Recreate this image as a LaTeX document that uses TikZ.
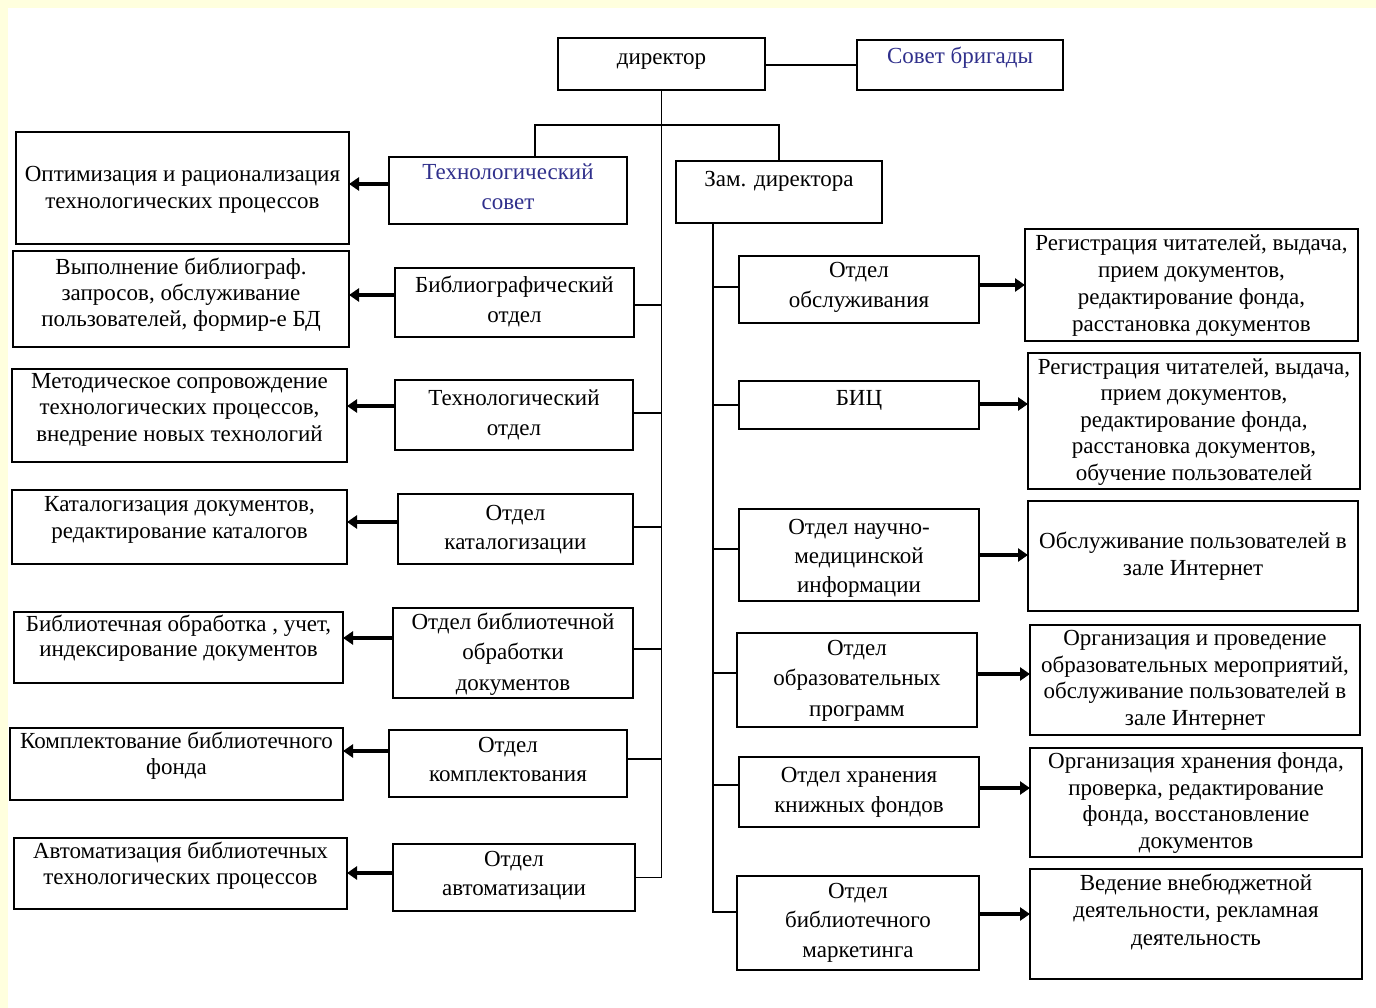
\documentclass[tikz,border=0pt]{standalone}
\usepackage{fontspec}
\setmainfont{Liberation Serif}
\usetikzlibrary{arrows.meta}
\definecolor{pageyellow}{RGB}{255,255,222}
\definecolor{councilblue}{RGB}{48,48,140}
\tikzset{
  boxst/.style={draw, line width=1.9pt, inner sep=0pt, outer sep=0pt},
  txt/.style={inner sep=0pt, outer sep=0pt, align=center, anchor=north},
  link/.style={line width=1.8pt},
  arr/.style={line width=3.6pt, -{Triangle[length=10pt,width=13pt]}},
}
% box: name, x1, y1, x2, y2, centre of first text line, line pitch, text
\newcommand\orgbox[8]{%
  \node[boxst, minimum width={(#4-#2)*1pt}, minimum height={(#5-#3)*1pt}]
    (#1) at ({(#2+#4)/2},{(#3+#5)/2}) {};
  \node[txt, font=\fontsize{23}{#7}\selectfont]
    (#1-t) at ({(#2+#4)/2},{#6-12.7}) {\rule{0pt}{20pt}#8};
}
\begin{document}
\begin{tikzpicture}[x=1pt,y=-1pt]
\useasboundingbox (0,0) rectangle (1376,1008);
\fill[pageyellow] (0,0) rectangle (1376,1008);
\fill[white] (8,8) rectangle (1376,1008);

% top level
\orgbox{dir}{558}{38}{765}{90}{57}{27}{директор}
\node[boxst, minimum width=206pt, minimum height=50pt] (brig) at (960,65) {};
\node[txt, text=councilblue, font=\fontsize{23}{27}\selectfont] (brig-t) at (960,{56-12.7}) {\rule{0pt}{20pt}Совет бригады};
\orgbox{zam}{676}{161}{882}{223}{179}{27}{Зам. директора}

% left branch: departments
\node[boxst, minimum width=238pt, minimum height=67pt] (tsov) at (508,190.5) {};
\node[txt, text=councilblue, font=\fontsize{23}{30}\selectfont] (tsov-t) at (508,{172-12.7}) {\rule{0pt}{20pt}Технологический\\совет};
\orgbox{bib}{395}{268}{634}{337}{285}{30}{Библиографический\\отдел}
\orgbox{tech}{395}{380}{633}{450}{398}{30}{Технологический\\отдел}
\orgbox{cat}{398}{494}{633}{564}{513}{29}{Отдел\\каталогизации}
\orgbox{proc}{393}{608}{633}{698}{622}{30.5}{Отдел библиотечной\\обработки\\документов}
\orgbox{acq}{389}{730}{627}{797}{745}{29}{Отдел\\комплектования}
\orgbox{auto}{393}{844}{635}{911}{859}{29}{Отдел\\автоматизации}

% left branch: functions
\orgbox{rOpt}{16}{132}{349}{244}{174}{27}{Оптимизация и рационализация\\технологических процессов}
\orgbox{rBib}{13}{251}{349}{347}{267}{26}{Выполнение библиограф.\\запросов, обслуживание\\пользователей, формир-е БД}
\orgbox{rMeth}{12}{369}{347}{462}{381}{26.5}{Методическое сопровождение\\технологических процессов,\\внедрение новых технологий}
\orgbox{rCat}{12}{490}{347}{564}{504}{27}{Каталогизация документов,\\редактирование каталогов}
\orgbox{rProc}{14}{612}{343}{683}{624}{25}{Библиотечная обработка , учет,\\индексирование документов}
\orgbox{rAcq}{10}{728}{343}{800}{741}{26}{Комплектование библиотечного\\фонда}
\orgbox{rAuto}{14}{838}{347}{909}{851}{26}{Автоматизация библиотечных\\технологических процессов}

% right branch: departments
\orgbox{serv}{739}{256}{979}{323}{270}{30}{Отдел\\обслуживания}
\orgbox{bic}{739}{381}{979}{429}{398}{27}{БИЦ}
\orgbox{med}{739}{509}{979}{601}{527}{29}{Отдел научно-\\медицинской\\информации}
\orgbox{edu}{737}{633}{977}{727}{648}{30.5}{Отдел\\образовательных\\программ}
\orgbox{store}{739}{757}{979}{827}{775}{30}{Отдел хранения\\книжных фондов}
\orgbox{mkt}{737}{876}{979}{970}{891}{29.5}{Отдел\\библиотечного\\маркетинга}

% right branch: functions
\orgbox{rServ}{1025}{229}{1358}{341}{243}{27}{Регистрация читателей, выдача,\\прием документов,\\редактирование фонда,\\расстановка документов}
\orgbox{rBic}{1028}{353}{1360}{489}{367}{26.5}{Регистрация читателей, выдача,\\прием документов,\\редактирование фонда,\\расстановка документов,\\обучение пользователей}
\orgbox{rMed}{1028}{501}{1358}{611}{541}{27}{Обслуживание пользователей в\\зале Интернет}
\orgbox{rEdu}{1030}{625}{1360}{735}{638}{26.7}{Организация и проведение\\образовательных мероприятий,\\обслуживание пользователей в\\зале Интернет}
\orgbox{rStore}{1030}{748}{1362}{857}{761}{26.7}{Организация хранения фонда,\\проверка, редактирование\\фонда, восстановление\\документов}
\orgbox{rMkt}{1030}{869}{1362}{979}{883}{27.5}{Ведение внебюджетной\\деятельности, рекламная\\деятельность}

% links between the director, the council and the deputy
\draw[link] (brig.west -| dir.east) -- (brig.west);
\coordinate (barY) at (0,125);
\draw[link] ([xshift=27pt]tsov.north) |- (zam.north |- barY) -- (zam.north);

% left trunk and its branches
\draw[link] (dir.south) -- (dir.south |- auto.east) -- (auto.east);
\draw[link] ([yshift=-2.5pt]bib.east) -- ([yshift=-2.5pt]bib.east -| dir.south);
\draw[link] ([yshift=2pt]tech.east) -- ([yshift=2pt]tech.east -| dir.south);
\draw[link] ([yshift=2pt]cat.east) -- ([yshift=2pt]cat.east -| dir.south);
\draw[link] ([yshift=4pt]proc.east) -- ([yshift=4pt]proc.east -| dir.south);
\draw[link] ([yshift=4.5pt]acq.east) -- ([yshift=4.5pt]acq.east -| dir.south);

% right trunk and its branches
\coordinate (rtop) at ([xshift=37pt]zam.south west);
\draw[link] (rtop) |- ([yshift=11pt]mkt.west);
\draw[link] ([yshift=2.5pt]serv.west) -- ([yshift=2.5pt]serv.west -| rtop);
\draw[link] (bic.west) -- (bic.west -| rtop);
\draw[link] ([yshift=6pt]med.west) -- ([yshift=6pt]med.west -| rtop);
\draw[link] ([yshift=7pt]edu.west) -- ([yshift=7pt]edu.west -| rtop);
\draw[link] ([yshift=7pt]store.west) -- ([yshift=7pt]store.west -| rtop);

% arrows to the functions
\draw[arr] ([yshift=6.5pt]tsov.west) -- ([yshift=6.5pt]tsov.west -| rOpt.east);
\draw[arr] ([yshift=7.5pt]bib.west) -- ([yshift=7.5pt]bib.west -| rBib.east);
\draw[arr] ([yshift=9pt]tech.west) -- ([yshift=9pt]tech.west -| rMeth.east);
\draw[arr] ([yshift=7pt]cat.west) -- ([yshift=7pt]cat.west -| rCat.east);
\draw[arr] ([yshift=15pt]proc.west) -- ([yshift=15pt]proc.west -| rProc.east);
\draw[arr] ([yshift=12.5pt]acq.west) -- ([yshift=12.5pt]acq.west -| rAcq.east);
\draw[arr] ([yshift=4.5pt]auto.west) -- ([yshift=4.5pt]auto.west -| rAuto.east);

\draw[arr] ([yshift=4.5pt]serv.east) -- ([yshift=4.5pt]serv.east -| rServ.west);
\draw[arr] ([yshift=1pt]bic.east) -- ([yshift=1pt]bic.east -| rBic.west);
\draw[arr] (med.east) -- (med.east -| rMed.west);
\draw[arr] ([yshift=6pt]edu.east) -- ([yshift=6pt]edu.east -| rEdu.west);
\draw[arr] ([yshift=4pt]store.east) -- ([yshift=4pt]store.east -| rStore.west);
\draw[arr] ([yshift=9pt]mkt.east) -- ([yshift=9pt]mkt.east -| rMkt.west);
\end{tikzpicture}
\end{document}
